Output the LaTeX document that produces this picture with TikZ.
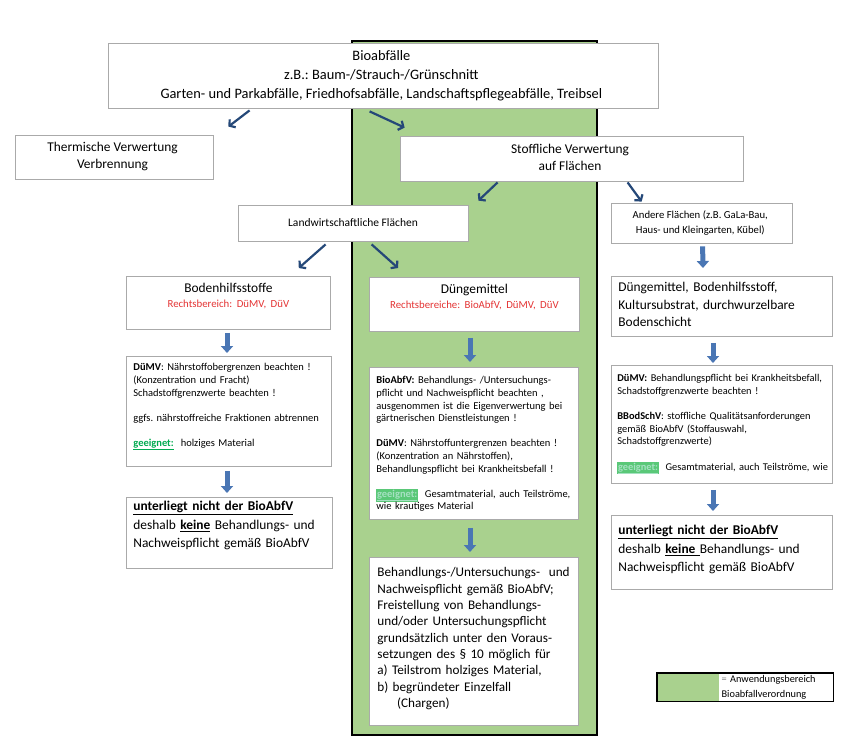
\documentclass[tikz,border=0pt]{standalone}
\usepackage{fontspec}
\setmainfont{Carlito}
\usepackage{tikz}
\usetikzlibrary{arrows.meta,positioning}
\usepackage{xcolor}
\definecolor{bagreen}{RGB}{169,209,142}
\definecolor{baframe}{RGB}{170,170,170}
\definecolor{badarkblue}{RGB}{37,72,120}
\definecolor{bablue}{RGB}{74,118,180}
\definecolor{bared}{RGB}{228,52,52}
\definecolor{bagood}{RGB}{0,170,80}
\definecolor{bahighlight}{RGB}{90,200,120}
\tikzstyle{cbox} = [rectangle, draw=baframe, fill=white, line width=0.8pt, inner sep=0pt, align=center]
\tikzstyle{tbox} = [rectangle, draw=baframe, fill=white, line width=0.8pt, anchor=north west, inner xsep=7pt, inner ysep=4pt, align=left]
\tikzstyle{diagarrow} = [line width=2.2pt, -{Straight Barb[length=4pt,width=10pt]}, color=badarkblue]
\tikzstyle{blockarrow} = [line width=5pt, -{Triangle[length=7pt,width=12pt]}, color=bablue]
\newcommand{\geeignet}{\textcolor{bagood}{\underline{\textbf{geeignet:}}}}
\newcommand{\geeignethl}{{\setlength{\fboxsep}{0.6pt}\colorbox{bahighlight}{\textcolor{bagood!35!white}{\underline{\textbf{geeignet:}}}}}}
\frenchspacing

\begin{document}
\begin{tikzpicture}[x=1pt, y=-1pt]
\useasboundingbox (0,0) rectangle (853,752);
% green area = Anwendungsbereich BioAbfV
\fill[bagreen] (352,41) rectangle (597,735);
\draw[black, line width=2pt] (352,41) rectangle (597,735);

% first two levels
\node (bio) [cbox, minimum width=550pt, minimum height=65pt, font=\fontsize{14.4}{19}\selectfont] at (383,75.5) {
\begin{tabular}{@{}c@{}}
Bioabfälle\\
z.B.: Baum-/Strauch-/Grünschnitt\\
Garten- und Parkabfälle, Friedhofsabfälle, Landschaftspflegeabfälle, Treibsel
\end{tabular}
};

\node (therm) [cbox, minimum width=198pt, minimum height=44pt, font=\fontsize{13.4}{17}\selectfont] at (114,157) {
\begin{tabular}{@{}c@{}}
Thermische Verwertung\\
Verbrennung
\end{tabular}
};

\node (stoff) [cbox, minimum width=343pt, minimum height=45pt, font=\fontsize{13.4}{17}\selectfont] at (571.5,158.5) {
\begin{tabular}{@{}c@{}}
Stoffliche Verwertung\\
auf Flächen
\end{tabular}
};

\node (landw) [cbox, minimum width=230pt, minimum height=36pt, font=\fontsize{11.5}{14}\selectfont] at (353,223) {Landwirtschaftliche Flächen};

\node (andere) [cbox, minimum width=181pt, minimum height=40pt, font=\fontsize{10.7}{15.5}\selectfont] at (701.5,223) {
\begin{tabular}{@{}c@{}}
Andere Flächen (z.B. GaLa-Bau,\\
Haus- und Kleingarten, Kübel)
\end{tabular}
};

% left column
\node (bodenh) [tbox, align=center, text width=190pt, text height=12.5pt, text depth=32.5pt, font=\fontsize{13.4}{15}\selectfont] at (126,276) {Bodenhilfsstoffe\\
\textcolor{bared}{\fontsize{10.8}{13}\selectfont Rechtsbereich: DüMV, DüV}};

\node (ldumv) [tbox, text width=191pt, text height=10.5pt, text depth=91.5pt, font=\fontsize{10.5}{12.6}\selectfont] at (126,356) {\textbf{DüMV}: Nährstoffobergrenzen beachten !\\
(Konzentration und Fracht)\\
Schadstoffgrenzwerte beachten !\\[12.6pt]
ggfs. nährstoffreiche Fraktionen abtrennen\\[12.6pt]
\geeignet\ \ holziges Material};

\node (lunter) [tbox, text width=192pt, text height=9.5pt, text depth=53.5pt, font=\fontsize{13.4}{18.5}\selectfont] at (126,497) {\underline{\textbf{unterliegt nicht der BioAbfV}}\\
deshalb \underline{\textbf{keine}} Behandlungs- und\\
Nachweispflicht gemäß BioAbfV};

% middle column
\node (dunge) [tbox, align=center, text width=196pt, text height=12.5pt, text depth=33.5pt, font=\fontsize{13.4}{15}\selectfont] at (369,277) {Düngemittel\\
\textcolor{bared}{\fontsize{10.8}{13}\selectfont Rechtsbereiche: BioAbfV, DüMV, DüV}};

\node (mbio) [tbox, text width=195pt, text height=12.5pt, text depth=131.5pt, font=\fontsize{10.5}{12.6}\selectfont] at (369,367) {\textbf{BioAbfV:} Behandlungs- /Untersuchungs-\\
pflicht und Nachweispflicht beachten ,\\
ausgenommen ist die Eigenverwertung bei\\
gärtnerischen Dienstleistungen !\\[12.6pt]
\textbf{DüMV}: Nährstoffuntergrenzen beachten !\\
(Konzentration an Nährstoffen),\\
Behandlungspflicht bei Krankheitsbefall !\\[12.6pt]
\geeignethl\ \ Gesamtmaterial, auch Teilströme,\\
wie krautiges Material};

\node (mbeh) [tbox, inner xsep=8pt, text width=193pt, text height=15.5pt, text depth=144.5pt, font=\fontsize{13.2}{16.3}\selectfont] at (369,557) {Behandlungs-/Untersuchungs-\ \ und\\
Nachweispflicht gemäß BioAbfV;\\
Freistellung von Behandlungs-\\
und/oder Untersuchungspflicht\\
grundsätzlich unter den Voraus-\\
setzungen des § 10 möglich für\\
a) Teilstrom holziges Material,\\
b) begründeter Einzelfall\\
\hspace*{1.5em}(Chargen)};

% right column
\node (rdunge) [tbox, text width=207pt, text height=11.5pt, text depth=40.5pt, font=\fontsize{13.4}{17.5}\selectfont] at (611,276) {Düngemittel, Bodenhilfsstoff,\\
Kultursubstrat, durchwurzelbare\\
Bodenschicht};

\node (rdumv) [tbox, inner xsep=6pt, text width=209pt, text height=12.5pt, text depth=97.5pt, font=\fontsize{10.4}{12.6}\selectfont] at (611,365) {\textbf{DüMV:} Behandlungspflicht bei Krankheitsbefall,\\
Schadstoffgrenzwerte beachten !\\[12.6pt]
\textbf{BBodSchV}: stoffliche Qualitätsanforderungen\\
gemäß BioAbfV (Stoffauswahl,\\
Schadstoffgrenzwerte)\\[12.6pt]
\mbox{\geeignethl\ \ Gesamtmaterial, auch Teilströme, wie}};

\node (runter) [tbox, text width=207pt, text height=15.5pt, text depth=50.5pt, font=\fontsize{13.4}{18.5}\selectfont] at (611,515) {\underline{\textbf{unterliegt nicht der BioAbfV}}\\
deshalb \underline{\textbf{keine}\ }Behandlungs- und\\
Nachweispflicht gemäß BioAbfV};

% legend
\node (legswatch) [rectangle, fill=bagreen, minimum width=62pt, minimum height=28pt, inner sep=0pt, anchor=north west] at (657,673) {};
\node (legtext) [rectangle, right=0pt of legswatch, minimum height=28pt, inner xsep=2pt, inner ysep=0pt, text width=110pt, align=left, font=\fontsize{10.3}{15}\selectfont] {\textcolor{gray}{=} Anwendungsbereich\\
Bioabfallverordnung};
\draw[black, line width=1.2pt] (legswatch.north west) rectangle (legtext.south east);

% arrows
\draw[diagarrow] ([shift={(142,2)}]bio.south west) -- ([shift={(15,-8)}]therm.north east);
\draw[diagarrow] ([shift={(262,3)}]bio.south west) -- ([shift={(5,-8)}]stoff.north west);
\draw[diagarrow] ([shift={(98,1)}]stoff.south west) -- ([shift={(10,-4)}]landw.north east);
\draw[diagarrow] ([shift={(228,1)}]stoff.south west) -- ([shift={(31,-1)}]andere.north west);
\draw[diagarrow] ([shift={(88,3)}]landw.south west) -- ([shift={(-32,-8)}]bodenh.north east);
\draw[diagarrow] ([shift={(134,3)}]landw.south west) -- ([shift={(29,-9)}]dunge.north west);

\draw[blockarrow] ([shift={(101,3)}]bodenh.south west) -- ([shift={(101,-3)}]ldumv.north west);
\draw[blockarrow] ([shift={(101,4)}]ldumv.south west) -- ([shift={(101,-4)}]lunter.north west);
\draw[blockarrow] ([shift={(101,6)}]dunge.south west) -- ([shift={(101,-5)}]mbio.north west);
\draw[blockarrow] ([shift={(101,8)}]mbio.south west) -- ([shift={(101,-5)}]mbeh.north west);
\draw[blockarrow] ([shift={(92,3)}]andere.south west) -- ([shift={(92,-8)}]rdunge.north west);
\draw[blockarrow] ([shift={(102,6)}]rdunge.south west) -- ([shift={(102,-2)}]rdumv.north west);
\draw[blockarrow] ([shift={(102,6)}]rdumv.south west) -- ([shift={(102,-4)}]runter.north west);
\end{tikzpicture}
\end{document}
